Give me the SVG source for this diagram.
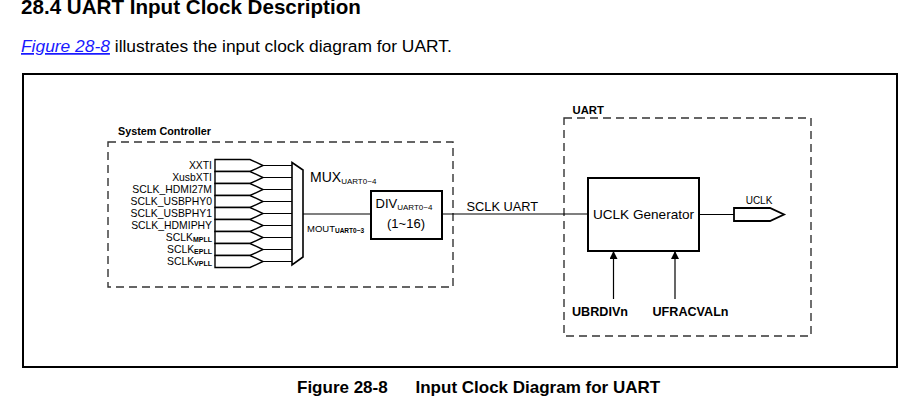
<svg xmlns="http://www.w3.org/2000/svg" width="923" height="404" viewBox="0 0 923 404">
<defs>
<style>
text{font-family:"Liberation Sans",Arial,sans-serif;fill:#000}
.b{font-weight:bold}
.dash{fill:none;stroke:#333;stroke-width:1.4;stroke-dasharray:8 5}
.box{fill:#fff;stroke:#000;stroke-width:2}
.pin{fill:#fff;stroke:#000;stroke-width:1.4}
.ln{fill:none;stroke:#000;stroke-width:1.2}
.lbl{font-size:10.4px;text-anchor:end}
.sub{font-size:7px;font-weight:bold}
</style>
<marker id="ah" viewBox="0 0 10 10" refX="10" refY="5" markerWidth="8" markerHeight="8" markerUnits="userSpaceOnUse" orient="auto">
<path d="M0,0 L10,5 L0,10 Z" fill="#000"/>
</marker>
</defs>
<rect width="923" height="404" fill="#fff"/>

<text class="b" x="21" y="14" font-size="20.6">28.4 UART Input Clock Description</text>
<text x="21" y="52" font-size="17.4"><tspan fill="#1a1aff" font-style="italic" text-decoration="underline">Figure 28-8</tspan> illustrates the input clock diagram for UART.</text>

<rect id="frame" x="23" y="74" width="874" height="293" fill="none" stroke="#000" stroke-width="2"/>

<g id="system-controller">
<rect class="dash" x="108" y="142" width="345" height="145"/>
<text class="b" x="118" y="135" font-size="10.8">System Controller</text>
</g>

<g id="inputs">
<path class="pin" d="M215,159.5 H250 L263,165.5 L250,171.5 H215 Z"/>
<path class="pin" d="M215,171.5 H250 L263,177.5 L250,183.5 H215 Z"/>
<path class="pin" d="M215,183.5 H250 L263,189.5 L250,195.5 H215 Z"/>
<path class="pin" d="M215,195.5 H250 L263,201.5 L250,207.5 H215 Z"/>
<path class="pin" d="M215,207.5 H250 L263,213.5 L250,219.5 H215 Z"/>
<path class="pin" d="M215,219.5 H250 L263,225.5 L250,231.5 H215 Z"/>
<path class="pin" d="M215,231.5 H250 L263,237.5 L250,243.5 H215 Z"/>
<path class="pin" d="M215,243.5 H250 L263,249.5 L250,255.5 H215 Z"/>
<path class="pin" d="M215,255.5 H250 L263,261.5 L250,267.5 H215 Z"/>
<text class="lbl" x="212" y="169">XXTI</text>
<text class="lbl" x="212" y="181">XusbXTI</text>
<text class="lbl" x="212" y="193">SCLK_HDMI27M</text>
<text class="lbl" x="212" y="205">SCLK_USBPHY0</text>
<text class="lbl" x="212" y="217">SCLK_USBPHY1</text>
<text class="lbl" x="212" y="229">SCLK_HDMIPHY</text>
<text class="lbl" x="212" y="241">SCLK<tspan class="sub" dy="1">MPLL</tspan></text>
<text class="lbl" x="212" y="253">SCLK<tspan class="sub" dy="1">EPLL</tspan></text>
<text class="lbl" x="212" y="265">SCLK<tspan class="sub" dy="1">VPLL</tspan></text>
</g>

<g id="mux">
<path d="M292,162.5 L303,170 V257 L292,265 Z" fill="#fff" stroke="#000" stroke-width="1.6"/>
<text x="310" y="182" font-size="14">MUX<tspan font-size="8" dy="1.5">UART0~4</tspan></text>
<text x="307" y="232" font-size="9.5">MOUT<tspan font-size="6.5" font-weight="bold" dy="1">UART0~3</tspan></text>
</g>

<g id="div">
<rect class="box" x="371" y="191" width="71" height="48"/>
<text x="375.5" y="208" font-size="13">DIV<tspan font-size="8" dy="1.5">UART0~4</tspan></text>
<text x="406" y="227.5" font-size="13" text-anchor="middle">(1~16)</text>
</g>

<g id="uart">
<rect class="dash" x="564" y="118" width="247" height="218"/>
<text class="b" x="572.5" y="113.5" font-size="11.3">UART</text>
</g>

<g id="uclk-generator">
<rect class="box" x="588" y="178" width="111" height="73"/>
<text x="643.5" y="218.5" font-size="13.6" text-anchor="middle">UCLK Generator</text>
</g>

<g id="uclk-out">
<path d="M734,208 H770 L784,214.5 L770,221 H734 Z" fill="#fff" stroke="#000" stroke-width="1.8"/>
<text x="759" y="203.5" font-size="10" text-anchor="middle">UCLK</text>
</g>

<g id="ubrdivn">
<text class="b" x="572" y="316" font-size="12.6">UBRDIVn</text>
</g>
<g id="ufracvaln">
<text class="b" x="652.5" y="316" font-size="12.6">UFRACVALn</text>
</g>

<g id="connectors">
<path class="ln" d="M263,165.5 H292 M263,177.5 H292 M263,189.5 H292 M263,201.5 H292 M263,213.5 H292 M263,225.5 H292 M263,237.5 H292 M263,249.5 H292 M263,261.5 H292"/>
<path class="ln" d="M303,214 H371"/>
<path class="ln" d="M442,214 H588"/>
<text x="466.5" y="210.5" font-size="12.8">SCLK UART</text>
<path class="ln" d="M699,214.5 H734"/>
<path class="ln" stroke-width="1.5" d="M613.5,299 V251" marker-end="url(#ah)"/>
<path class="ln" stroke-width="1.5" d="M675,299 V251" marker-end="url(#ah)"/>
</g>

<text class="b" x="297" y="392.5" font-size="17">Figure 28-8</text>
<text class="b" x="415.5" y="392.5" font-size="17">Input Clock Diagram for UART</text>
</svg>
